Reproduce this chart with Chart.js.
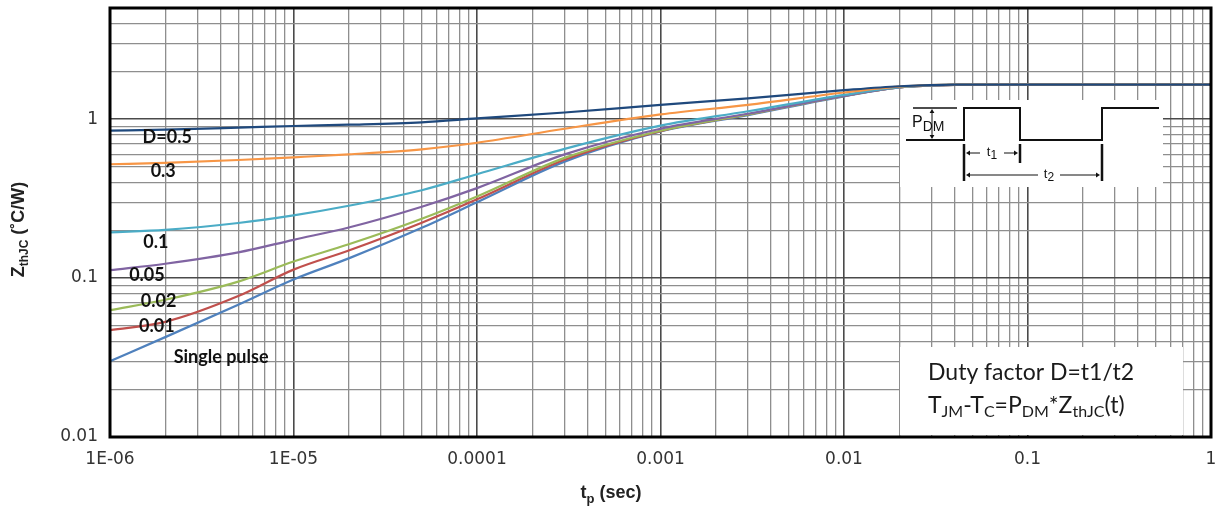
<!DOCTYPE html>
<html><head><meta charset="utf-8">
<script src="https://cdn.jsdelivr.net/npm/chart.js@4.4.1/dist/chart.umd.min.js"></script>
<style>html,body{margin:0;padding:0;background:#fff;}</style>
</head><body>
<canvas id="c" width="1221" height="507"></canvas>
<script>
// ---- data ----
const times   = [1e-6, 2e-6, 5e-6, 1e-5, 2e-5, 5e-5, 1e-4, 3e-4, 1e-3, 3e-3, 1e-2, 2e-2, 4e-2, 1e-1, 1];
const zD05    = [0.846, 0.859, 0.884, 0.905, 0.922, 0.955, 1.01, 1.10, 1.23, 1.35, 1.52, 1.61, 1.65, 1.65, 1.65];
const zD03    = [0.52, 0.53, 0.553, 0.575, 0.60, 0.645, 0.71, 0.87, 1.07, 1.23, 1.47, 1.60, 1.65, 1.65, 1.65];
const zD01    = [0.194, 0.201, 0.222, 0.248, 0.285, 0.357, 0.45, 0.65, 0.91, 1.12, 1.42, 1.59, 1.65, 1.65, 1.65];
const zD005   = [0.112, 0.123, 0.145, 0.174, 0.208, 0.281, 0.368, 0.60, 0.87, 1.08, 1.40, 1.58, 1.64, 1.65, 1.65];
const zD002   = [0.0628, 0.073, 0.095, 0.127, 0.163, 0.236, 0.326, 0.57, 0.845, 1.07, 1.40, 1.58, 1.64, 1.65, 1.65];
const zD001   = [0.047, 0.053, 0.077, 0.113, 0.149, 0.223, 0.313, 0.555, 0.84, 1.07, 1.40, 1.58, 1.64, 1.65, 1.65];
const zSingle = [0.030, 0.0425, 0.068, 0.098, 0.133, 0.207, 0.30, 0.54, 0.835, 1.06, 1.39, 1.58, 1.64, 1.65, 1.65];

const seriesNames  = ['D=0.5', '0.3', '0.1', '0.05', '0.02', '0.01', 'Single pulse'];
const seriesValues = [zD05, zD03, zD01, zD005, zD002, zD001, zSingle];
const seriesColors = ['#1F497D', '#F79646', '#4BACC6', '#8064A2', '#9BBB59', '#C0504D', '#4F81BD'];
// where each curve label sits (data coordinates: time, Z)
const labelTimes = [2.05e-6, 1.95e-6, 1.78e-6, 1.59e-6, 1.84e-6, 1.80e-6, 4.03e-6];
const labelZs    = [0.764, 0.469, 0.169, 0.1044, 0.0716, 0.050, 0.0319];

const xTickValues = [1e-6, 1e-5, 1e-4, 1e-3, 1e-2, 1e-1, 1];
const xTickLabels = ['1E-06', '1E-05', '0.0001', '0.001', '0.01', '0.1', '1'];
const yTickValues = [0.01, 0.1, 1];
const yTickLabels = ['0.01', '0.1', '1'];

// ---- helpers ----
function logTicks(minExp, maxExp, top) {
  const out = [];
  for (let e = minExp; e < maxExp; e++) for (let m = 1; m <= 9; m++) out.push({value: m * Math.pow(10, e)});
  for (let m = 1; m <= top; m++) out.push({value: m * Math.pow(10, maxExp)});
  return out;
}
function isDecade(v) { const l = Math.log10(v); return Math.abs(l - Math.round(l)) < 1e-6; }
function findLabel(vals, labels, v) {
  for (let i = 0; i < vals.length; i++) if (Math.abs(Math.log10(vals[i]) - Math.log10(v)) < 1e-6) return labels[i];
  return '';
}
function drawRich(ctx, parts, x, y, align) {
  let w = 0;
  parts.forEach(p => { ctx.font = p.f; p.w = ctx.measureText(p.t).width; w += p.w; });
  let cx = align === 'center' ? x - w / 2 : (align === 'right' ? x - w : x);
  ctx.textAlign = 'left';
  parts.forEach(p => { ctx.font = p.f; ctx.fillText(p.t, cx, y + (p.dy || 0)); cx += p.w; });
}
function arrowHead(ctx, x, y, dir, s) {
  ctx.beginPath();
  if (dir === 'up')    { ctx.moveTo(x, y); ctx.lineTo(x - s*0.6, y + s); ctx.lineTo(x + s*0.6, y + s); }
  if (dir === 'down')  { ctx.moveTo(x, y); ctx.lineTo(x - s*0.6, y - s); ctx.lineTo(x + s*0.6, y - s); }
  if (dir === 'left')  { ctx.moveTo(x, y); ctx.lineTo(x + s, y - s*0.6); ctx.lineTo(x + s, y + s*0.6); }
  if (dir === 'right') { ctx.moveTo(x, y); ctx.lineTo(x - s, y - s*0.6); ctx.lineTo(x - s, y + s*0.6); }
  ctx.closePath(); ctx.fill();
}
function noPad(s) { s.paddingTop = 0; s.paddingBottom = 0; s.paddingLeft = 0; s.paddingRight = 0; }

const deco = {
  id: 'deco',
  afterDraw(chart) {
    const {ctx, chartArea: a, scales: {x, y}} = chart;
    ctx.save();
    // curve labels
    ctx.fillStyle = '#111';
    ctx.textBaseline = 'middle';
    ctx.textAlign = 'center';
    ctx.font = 'bold 18px Lato';
    seriesNames.forEach((n, i) => {
      ctx.fillText(n, x.getPixelForValue(labelTimes[i]), y.getPixelForValue(labelZs[i]));
    });

    // formula box (bottom right)
    const bx = a.right - 311, by = a.bottom - 90;
    ctx.fillStyle = '#fff';
    ctx.fillRect(bx, by, 283, 88);
    ctx.fillStyle = '#1a1a1a';
    ctx.textBaseline = 'alphabetic';
    const big = '23px Lato', sub = '16px Lato';
    drawRich(ctx, [{t: 'Duty factor D=t1/t2', f: big}], bx + 28, by + 33, 'left');
    drawRich(ctx, [
      {t: 'T', f: big}, {t: 'JM', f: sub, dy: 4}, {t: '-T', f: big}, {t: 'C', f: sub, dy: 4},
      {t: '=P', f: big}, {t: 'DM', f: sub, dy: 4}, {t: '*Z', f: big}, {t: 'thJC', f: sub, dy: 4},
      {t: '(t)', f: big}
    ], bx + 28, by + 66, 'left');

    // pulse diagram inset (top right)
    const ix = a.right - 311, iy = a.top + 92;
    ctx.fillStyle = '#fff';
    ctx.fillRect(ix, iy, 263, 87);
    ctx.strokeStyle = '#111'; ctx.fillStyle = '#111';
    ctx.lineWidth = 2;
    const hi = iy + 8, lo = iy + 40;
    ctx.beginPath();
    ctx.moveTo(ix + 6, lo); ctx.lineTo(ix + 64, lo); ctx.lineTo(ix + 64, hi); ctx.lineTo(ix + 120, hi);
    ctx.lineTo(ix + 120, lo); ctx.lineTo(ix + 202, lo); ctx.lineTo(ix + 202, hi); ctx.lineTo(ix + 259, hi);
    ctx.stroke();
    ctx.lineWidth = 1.5;
    ctx.beginPath(); ctx.moveTo(ix + 13, hi); ctx.lineTo(ix + 57, hi); ctx.stroke();
    // PDM arrow
    ctx.lineWidth = 1;
    ctx.beginPath(); ctx.moveTo(ix + 32, hi + 4); ctx.lineTo(ix + 32, lo - 4); ctx.stroke();
    arrowHead(ctx, ix + 32, hi + 1, 'up', 4);
    arrowHead(ctx, ix + 32, lo - 1, 'down', 4);
    ctx.textBaseline = 'alphabetic';
    drawRich(ctx, [{t: 'P', f: '16px "Liberation Sans"'}, {t: 'DM', f: '14px "Liberation Sans"', dy: 4}], ix + 12, iy + 27, 'left');
    // time markers
    ctx.lineWidth = 2.5;
    ctx.beginPath();
    ctx.moveTo(ix + 64, lo + 4); ctx.lineTo(ix + 64, iy + 81);
    ctx.moveTo(ix + 120, lo + 4); ctx.lineTo(ix + 120, iy + 63);
    ctx.moveTo(ix + 202, lo + 4); ctx.lineTo(ix + 202, iy + 81);
    ctx.stroke();
    ctx.lineWidth = 1;
    // t1
    const t1y = iy + 53;
    ctx.beginPath(); ctx.moveTo(ix + 68, t1y); ctx.lineTo(ix + 80, t1y); ctx.moveTo(ix + 104, t1y); ctx.lineTo(ix + 116, t1y); ctx.stroke();
    arrowHead(ctx, ix + 66, t1y, 'left', 4); arrowHead(ctx, ix + 118, t1y, 'right', 4);
    drawRich(ctx, [{t: 't', f: '13px "Liberation Sans"'}, {t: '1', f: '12px "Liberation Sans"', dy: 3}], ix + 92, t1y + 3, 'center');
    // t2
    const t2y = iy + 75;
    ctx.beginPath(); ctx.moveTo(ix + 68, t2y); ctx.lineTo(ix + 138, t2y); ctx.moveTo(ix + 160, t2y); ctx.lineTo(ix + 198, t2y); ctx.stroke();
    arrowHead(ctx, ix + 66, t2y, 'left', 4); arrowHead(ctx, ix + 200, t2y, 'right', 4);
    drawRich(ctx, [{t: 't', f: '13px "Liberation Sans"'}, {t: '2', f: '12px "Liberation Sans"', dy: 3}], ix + 149, t2y + 3, 'center');

    // plot frame
    ctx.strokeStyle = '#000';
    ctx.lineWidth = 3;
    ctx.strokeRect(a.left, a.top, a.right - a.left, a.bottom - a.top);

    // axis titles
    ctx.fillStyle = '#222';
    ctx.textBaseline = 'alphabetic';
    drawRich(ctx, [
      {t: 't', f: 'bold 18px "Liberation Sans"'}, {t: 'p', f: 'bold 13px "Liberation Sans"', dy: 5},
      {t: ' (sec)', f: 'bold 18px "Liberation Sans"'}
    ], a.left + 501, 498, 'center');
    ctx.save();
    ctx.translate(24, (a.top + a.bottom) / 2 + 7);
    ctx.rotate(-Math.PI / 2);
    drawRich(ctx, [
      {t: 'Z', f: 'bold 18px "Liberation Sans"'}, {t: 'thJC', f: 'bold 12px "Liberation Sans"', dy: 4},
      {t: ' (˚C/W)', f: 'bold 18px "Liberation Sans"'}
    ], 0, 0, 'center');
    ctx.restore();
    ctx.restore();
  }
};

const gridColor = c => isDecade(c.tick.value) ? '#4a4a4a' : '#8e8e8e';
const gridWidth = c => isDecade(c.tick.value) ? 1.6 : 1.3;

new Chart(document.getElementById('c'), {
  type: 'line',
  data: {
    datasets: seriesNames.map((n, i) => ({
      label: n,
      data: times.map((t, j) => ({x: t, y: seriesValues[i][j]})),
      borderColor: seriesColors[i],
      borderWidth: 2.2,
      pointRadius: 0,
      fill: false,
      cubicInterpolationMode: 'monotone'
    }))
  },
  options: {
    responsive: false,
    animation: false,
    devicePixelRatio: 1,
    layout: {padding: {top: 8, right: 10, left: 0, bottom: 0}},
    plugins: {legend: {display: false}, tooltip: {enabled: false}},
    scales: {
      x: {
        type: 'logarithmic', min: 1e-6, max: 1,
        afterBuildTicks: s => { s.ticks = logTicks(-6, 0, 1); },
        afterFit: s => { s.height = 70; noPad(s); },
        border: {display: false},
        grid: {drawTicks: false, color: gridColor, lineWidth: gridWidth},
        ticks: {
          autoSkip: false, maxRotation: 0, minRotation: 0, padding: 12,
          font: {family: 'DejaVu Sans', size: 17}, color: '#333',
          callback: v => findLabel(xTickValues, xTickLabels, v)
        }
      },
      y: {
        type: 'logarithmic', min: 0.01, max: 5,
        afterBuildTicks: s => { s.ticks = logTicks(-2, 0, 5); },
        afterFit: s => { s.width = 110; noPad(s); },
        border: {display: false},
        grid: {drawTicks: false, color: gridColor, lineWidth: gridWidth},
        ticks: {
          autoSkip: false, padding: 12,
          font: {family: 'DejaVu Sans', size: 17}, color: '#333',
          callback: v => findLabel(yTickValues, yTickLabels, v)
        }
      }
    }
  },
  plugins: [deco]
});
</script>
</body></html>
